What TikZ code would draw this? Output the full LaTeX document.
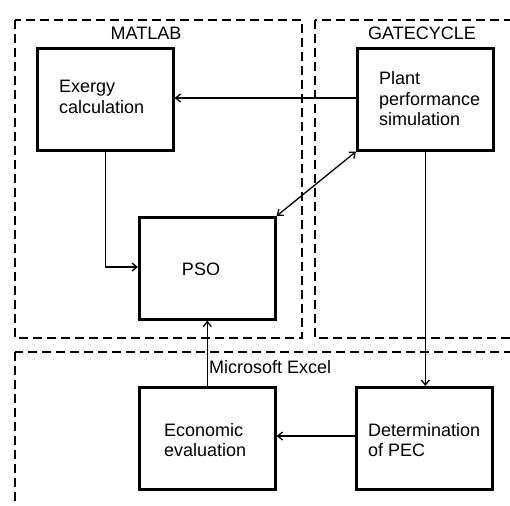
\documentclass[tikz,border=0pt]{standalone}
\usepackage{fontspec}
\setmainfont{Liberation Sans}
\usetikzlibrary{arrows.meta}
\begin{document}
\begin{tikzpicture}[x=1pt,y=-1pt,
  region/.style={draw, line width=1.8pt, dash pattern=on 9pt off 5pt},
  blk/.style={draw, line width=2.6pt, minimum width=136pt, minimum height=102pt, inner sep=0pt, anchor=north west},
  txt/.style={font=\fontsize{18}{20.5}\selectfont, align=left, inner sep=0pt},
  conn/.style={line width=1.3pt, -{Straight Barb[length=5pt,width=8pt]}},
  lbl/.style={font=\fontsize{18}{20}\selectfont, inner sep=0pt}]
\useasboundingbox (0,0) rectangle (510,505);
\clip (0,0) rectangle (510,505);
\fill[white] (0,0) rectangle (510,505);
% regions
\draw[region] (15,20) rectangle (302,338);
\draw[region] (315,20) rectangle (530,338);
\draw[region] (15,352) rectangle (530,520);
\node[lbl] (matlab) at (146,33) {MATLAB};
\node[lbl] (gate) at (422,33) {GATECYCLE};
\node[lbl, anchor=west] (excel) at (209,367) {Microsoft Excel};
% boxes
\node[blk] (exergy) at (36,47) {};
\node[txt, anchor=west] at (59,97) {Exergy\\calculation};
\node[blk] (plant) at (356,47) {};
\node[txt, anchor=west] at (379,99) {Plant\\performance\\simulation};
\node[blk] (pso) at (138,216) {};
\node[txt] at (201,269) {PSO};
\node[blk] (econ) at (138,386) {};
\node[txt, anchor=west] at (164,440) {Economic\\evaluation};
\node[blk] (pec) at (355,386) {};
\node[txt, anchor=west] at (368,440) {Determination\\of PEC};
% connectors
\draw[conn] (plant.west |- 0,98) -- (exergy.east |- 0,98);
\draw[conn] (exergy.south) |- (pso.west |- 0,267);
\draw[line width=1.3pt, {Straight Barb[length=5pt,width=8pt]}-{Straight Barb[length=5pt,width=8pt]}] (pso.north east) -- (plant.south west);
\draw[conn] (plant.south) -- (pec.north -| plant.south);
\draw[conn] (pec.west |- 0,436) -- (econ.east |- 0,436);
\draw[conn] (econ.north) -- (pso.south);
\end{tikzpicture}
\end{document}
